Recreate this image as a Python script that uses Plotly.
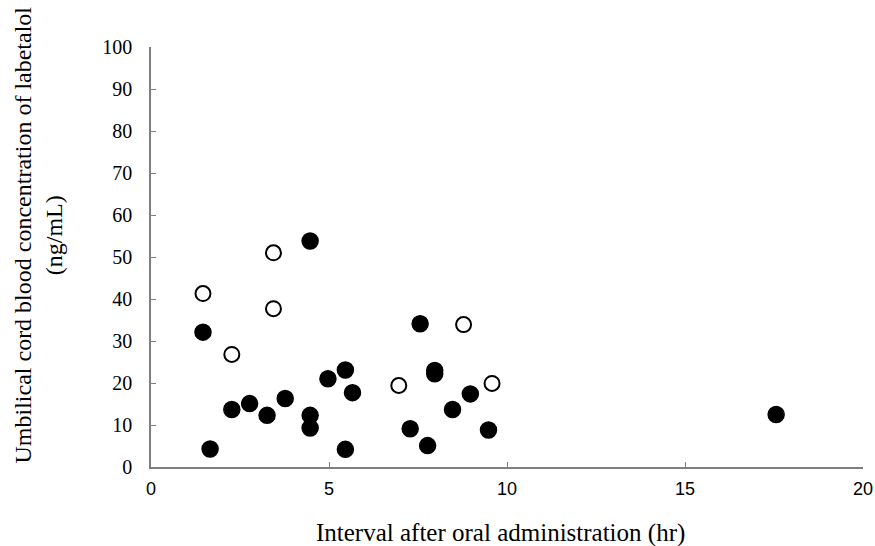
import plotly.graph_objects as go

# Open circles
open_x = [1.46, 3.44, 3.44, 2.27, 8.78, 6.96, 9.58]
open_y = [41.3, 51.0, 37.7, 26.8, 33.9, 19.4, 19.9]

# Filled circles
filled_x = [4.47, 1.46, 1.66, 2.27, 2.77, 3.26, 3.77, 4.47, 4.47, 4.97, 5.46, 5.66, 5.46,
            7.56, 7.97, 7.97, 8.97, 8.47, 7.28, 7.77, 9.48, 17.56]
filled_y = [53.8, 32.1, 4.3, 13.7, 15.1, 12.3, 16.3, 12.3, 9.3, 21.0, 23.1, 17.7, 4.2,
            34.1, 23.0, 22.2, 17.4, 13.7, 9.1, 5.1, 8.8, 12.5]

x_ticks = [0, 5, 10, 15, 20]
y_ticks = [0, 10, 20, 30, 40, 50, 60, 70, 80, 90, 100]

x_title = "Interval after oral administration (hr)"
y_title = "Umbilical cord blood concentration of labetalol<br>(ng/mL)"

fig = go.Figure()
fig.add_trace(go.Scatter(x=filled_x, y=filled_y, mode="markers",
                         marker=dict(size=16, color="black", line=dict(color="black", width=1.5)),
                         showlegend=False, cliponaxis=False))
fig.add_trace(go.Scatter(x=open_x, y=open_y, mode="markers",
                         marker=dict(size=15, color="white", line=dict(color="black", width=2)),
                         showlegend=False, cliponaxis=False))

axis_color = "#7f7f7f"
serif = "Liberation Serif, Times New Roman, serif"
fig.update_layout(
    width=875, height=546,
    margin=dict(l=151, r=12, t=47, b=79, autoexpand=False),
    plot_bgcolor="white", paper_bgcolor="white",
    xaxis=dict(range=[0, 20], tickvals=x_ticks, showgrid=False, zeroline=False,
               showline=True, linecolor=axis_color, linewidth=1.5, automargin=False,
               ticks="inside", ticklen=5, tickcolor=axis_color, tickwidth=1,
               tickfont=dict(family="Liberation Sans, Arial, sans-serif", size=18, color="black"),
               ticklabelstandoff=5),
    yaxis=dict(range=[0, 100], tickvals=y_ticks, showgrid=False, zeroline=False,
               showline=True, linecolor=axis_color, linewidth=1.5, automargin=False,
               ticks="inside", ticklen=5, tickcolor=axis_color, tickwidth=1,
               tickfont=dict(family=serif, size=20, color="black"),
               ticklabelstandoff=13),
    annotations=[
        dict(text=x_title, xref="paper", yref="paper", x=(500 - 151) / 712, y=(467.5 - 533) / 420,
             xanchor="center", yanchor="middle", showarrow=False,
             font=dict(family=serif, size=25, color="black")),
        dict(text=y_title, xref="paper", yref="paper", x=(38 - 151) / 712, y=(467.5 - 236) / 420,
             xanchor="center", yanchor="middle", showarrow=False, textangle=-90,
             font=dict(family=serif, size=24, color="black")),
    ],
)

fig.write_html("out.html")
